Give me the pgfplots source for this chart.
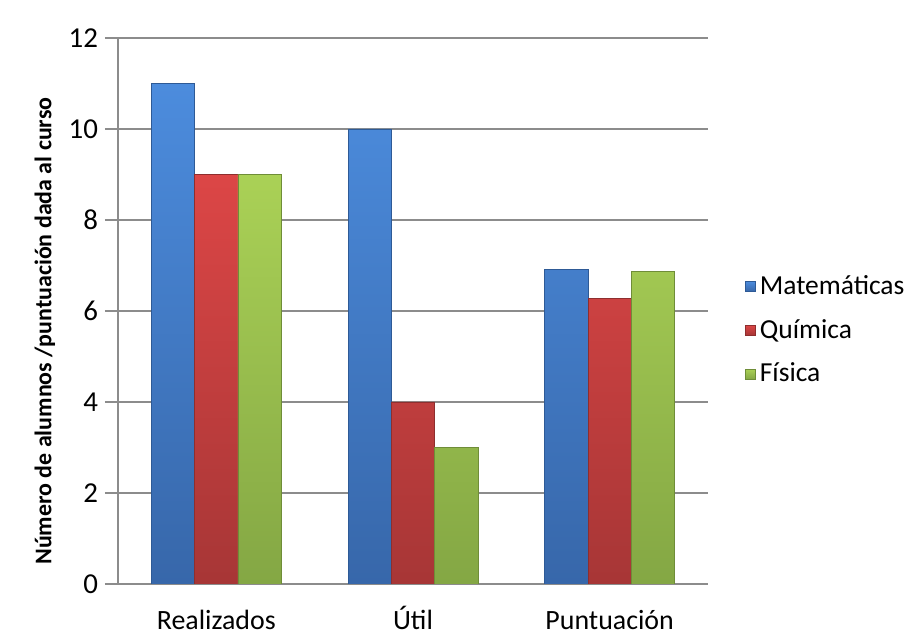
\documentclass[border=0pt]{standalone}
\usepackage{fontspec}
\setmainfont{Carlito}
\usepackage{pgfplots}
\pgfplotsset{compat=1.18}

\definecolor{matTop}{HTML}{4C8CDD}
\definecolor{matBot}{HTML}{3767AA}
\definecolor{matLine}{HTML}{2E5A96}
\definecolor{quiTop}{HTML}{DC4646}
\definecolor{quiBot}{HTML}{A73636}
\definecolor{quiLine}{HTML}{8E2E2E}
\definecolor{fisTop}{HTML}{AAD156}
\definecolor{fisBot}{HTML}{84A744}
\definecolor{fisLine}{HTML}{6F8D38}
\definecolor{axgray}{HTML}{8C8C8C}

\begin{document}
\begin{tikzpicture}
\useasboundingbox (-59bp,-27.5bp) rectangle (395bp,292bp);
\begin{axis}[
  at={(0,0)}, anchor=south west,
  scale only axis, width=295bp, height=273bp,
  ybar=0pt, bar width=0.22,
  xmin=-0.5, xmax=2.5, ymin=0, ymax=12,
  xtick={0,1,2}, xticklabels={Realizados,Útil,Puntuación},
  ytick={0,2,...,12},
  axis x line*=bottom, axis y line*=left,
  axis line style={draw=axgray, line width=0.7pt, -},
  x tick style={draw=none},
  y tick style={draw=axgray, line width=0.7pt},
  tick align=outside, major tick length=6.5bp,
  ymajorgrids, grid style={draw=axgray, line width=0.7pt},
  /pgf/number format/assume math mode=true,
  yticklabel style={font=\fontsize{14.5}{17}\selectfont},
  xticklabel style={font=\fontsize{14}{17}\selectfont, anchor=base, yshift=-16bp},
  ylabel={\textbf{Número de alumnos /puntuación dada al curso}},
  ylabel style={font=\fontsize{12}{14}\selectfont, at={(axis description cs:-0.124,0.463)}, anchor=center},
  legend style={at={(1.052,0.465)}, anchor=west, draw=none, fill=none,
    font=\fontsize{13.8}{17}\selectfont, row sep=7bp,
    /tikz/every even column/.append style={column sep=0bp}},
  legend cell align=left,
  legend image code/.code={\path[#1] (0bp,-2.5bp) rectangle (5bp,2.5bp);},
]
\addplot[draw=matLine, line width=0.4pt, top color=matTop, bottom color=matBot] coordinates {(0,11) (1,10) (2,6.92)};
\addplot[draw=quiLine, line width=0.4pt, top color=quiTop, bottom color=quiBot] coordinates {(0,9) (1,4) (2,6.28)};
\addplot[draw=fisLine, line width=0.4pt, top color=fisTop, bottom color=fisBot] coordinates {(0,9) (1,3) (2,6.86)};
\legend{Matemáticas,Química,Física}
\end{axis}
\end{tikzpicture}
\end{document}
